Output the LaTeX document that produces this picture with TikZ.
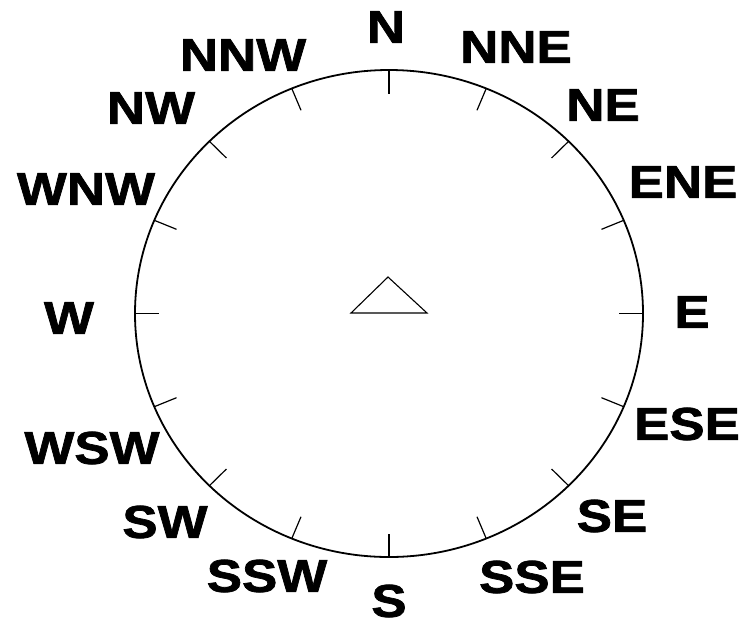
\documentclass[tikz,border=0pt]{standalone}
\usepackage{fontspec}
\setmainfont{Liberation Sans}
\newfontfamily\dirfont[FakeStretch=1.15,FakeBold=1.6]{Liberation Sans Bold}
\usepackage{tikz}
\usetikzlibrary{calc}
\tikzset{
  DIR/.style={font=\dirfont\fontsize{46}{46}\selectfont,inner sep=0pt,text=black},
  RIM/.style={draw=black,line width=1.8pt},
  TK/.style={draw=black,line width=1.2pt},
  MK/.style={draw=black,line width=1.1pt,line join=miter},
}

\begin{document}
\begin{tikzpicture}[x=1pt,y=-1pt]

% frame
\fill[white](0,0) rectangle (743,625);
\useasboundingbox (0,0) rectangle (743,625);

% dial
\coordinate (ctr) at (389,313.5);
\draw[RIM](ctr) ellipse [x radius=254, y radius=243.5];
\foreach \a in {0,22.5,...,337.5}{
  \draw[TK]($(ctr)+(\a:254 and 243.5)$)--($(ctr)+(\a:230 and 220)$);
}

% marker
\coordinate (tl) at (351,313);
\coordinate (tt) at (388,277);
\coordinate (tr) at (427,313);
\draw[MK](tl)--(tt)--(tr)--cycle;

% labels
\node[DIR](n)   at (386,27) {N};
\node[DIR](nne) at (516,47) {NNE};
\node[DIR](ne)  at (603,105){NE};
\node[DIR](ene) at (683,182){ENE};
\node[DIR](e)   at (692,312){E};
\node[DIR](ese) at (687,424){ESE};
\node[DIR](se)  at (612,516){SE};
\node[DIR](sse) at (532,577){SSE};
\node[DIR](s)   at (389,601){S};
\node[DIR](ssw) at (267,576){SSW};
\node[DIR](sw)  at (165,522){SW};
\node[DIR](wsw) at (92,448) {WSW};
\node[DIR](w)   at (69,318) {W};
\node[DIR](wnw) at (86,189) {WNW};
\node[DIR](nw)  at (151,108){NW};
\node[DIR](nnw) at (243,55) {NNW};

\end{tikzpicture}
\end{document}
